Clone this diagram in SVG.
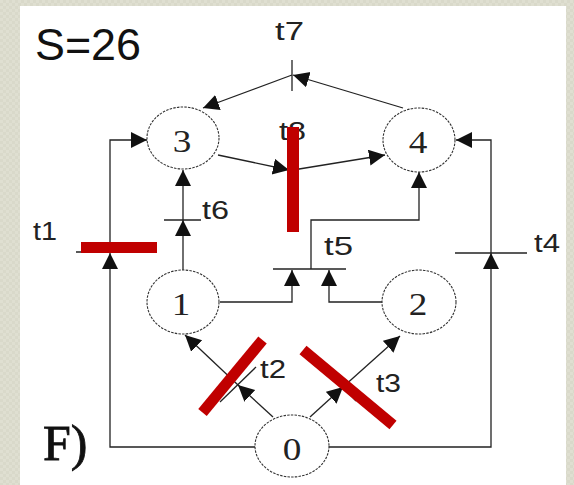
<svg xmlns="http://www.w3.org/2000/svg" width="574" height="485" viewBox="0 0 574 485">
  <defs>
    <pattern id="tex" width="6" height="6" patternUnits="userSpaceOnUse">
      <rect width="6" height="6" fill="#d9d9ca"/>
      <rect width="3" height="3" fill="#dfdfd1"/>
      <rect x="3" y="3" width="3" height="3" fill="#dfdfd1"/>
    </pattern>
    <marker id="arr" markerUnits="userSpaceOnUse" markerWidth="18" markerHeight="18" refX="16" refY="8" orient="auto" viewBox="0 0 18 18">
      <path d="M0,0 L16,8 L0,16 z" fill="#111"/>
    </marker>
    <style>
      .ln { fill: none; stroke: #222; stroke-width: 1.3; }
      .ar { marker-end: url(#arr); }
      .bar { stroke: #222; stroke-width: 1.3; }
      .place { fill: #fff; stroke: #333; stroke-width: 1.1; stroke-dasharray: 2.5 1.2; }
      .pl { font-family: "Liberation Serif", "Times New Roman", serif; font-size: 31px; fill: #222; text-anchor: middle; }
      .tl { font-family: "Liberation Sans", Arial, sans-serif; font-size: 25px; fill: #222; }
      .red { stroke: #c00000; stroke-width: 11; stroke-linecap: butt; }
    </style>
  </defs>

  <rect width="574" height="485" fill="url(#tex)"/>
  <rect x="20" y="6" width="546" height="479" fill="#ffffff"/>

  <text x="35" y="60" font-family="Liberation Sans, Arial, sans-serif" font-size="45" fill="#111" textLength="106" lengthAdjust="spacingAndGlyphs">S=26</text>
  <text x="43" y="460" font-family="Liberation Serif, Times New Roman, serif" font-size="50" fill="#111" stroke="#111" stroke-width="0.8">F)</text>

  <g id="connectors">
    <!-- t1 -->
    <path class="ln ar" d="M255,447 H110 V253"/>
    <line class="bar" x1="76" y1="252" x2="144" y2="252"/>
    <path class="ln ar" d="M110,252 V140 H147"/>
    <!-- t6 -->
    <path class="ln ar" d="M183,270 V220"/>
    <line class="bar" x1="164" y1="220" x2="201" y2="220"/>
    <path class="ln ar" d="M183,220 V170"/>
    <!-- t7 -->
    <path class="ln ar" d="M403,108 L293,75"/>
    <line class="bar" x1="292" y1="60" x2="292" y2="91"/>
    <path class="ln ar" d="M292,75 L203,108"/>
    <!-- t8 -->
    <path class="ln ar" d="M218,155 L289,170"/>
    <line class="bar" x1="293" y1="150" x2="293" y2="190"/>
    <path class="ln ar" d="M293,170 L385,155"/>
    <!-- t5 -->
    <path class="ln ar" d="M220,302 H292 V270"/>
    <path class="ln ar" d="M383,302 H329 V270"/>
    <line class="bar" x1="273" y1="269" x2="346" y2="269"/>
    <path class="ln ar" d="M311,269 V220 H419 V172"/>
    <!-- t4 -->
    <path class="ln ar" d="M329,447 H491 V253"/>
    <line class="bar" x1="455" y1="253" x2="527" y2="253"/>
    <path class="ln ar" d="M491,253 V140 H456"/>
    <!-- t2 -->
    <path class="ln ar" d="M273,417 L238,385"/>
    <line class="bar" x1="220" y1="402" x2="256" y2="367"/>
    <path class="ln ar" d="M238,385 L185,335"/>
    <!-- t3 -->
    <path class="ln ar" d="M310,417 L343,387"/>
    <line class="bar" x1="330" y1="373" x2="356" y2="401"/>
    <path class="ln ar" d="M343,387 L400,336"/>
  </g>

  <g id="p3"><ellipse class="place" cx="183" cy="138" rx="36" ry="31"/><text class="pl" transform="translate(182,152) scale(1.2,1)">3</text></g>
  <g id="p4"><ellipse class="place" cx="419" cy="140" rx="36" ry="32"/><text class="pl" transform="translate(418,153) scale(1.2,1)">4</text></g>
  <g id="p1"><ellipse class="place" cx="183" cy="302" rx="36" ry="32"/><text class="pl" transform="translate(181,315) scale(1.2,1)">1</text></g>
  <g id="p2"><ellipse class="place" cx="419" cy="302" rx="37" ry="32"/><text class="pl" transform="translate(418,315) scale(1.2,1)">2</text></g>
  <g id="p0"><ellipse class="place" cx="292" cy="446" rx="37" ry="31"/><text class="pl" transform="translate(292,460) scale(1.2,1)">0</text></g>

  <g id="t1"><text class="tl" x="33" y="240" textLength="24" lengthAdjust="spacingAndGlyphs">t1</text><rect x="81" y="242" width="76" height="11" fill="#c00000"/></g>
  <g id="t6"><text class="tl" x="202" y="219" textLength="27" lengthAdjust="spacingAndGlyphs">t6</text></g>
  <g id="t7"><text class="tl" x="275" y="40" textLength="29" lengthAdjust="spacingAndGlyphs">t7</text></g>
  <g id="t8"><text class="tl" x="279" y="140" textLength="27" lengthAdjust="spacingAndGlyphs">t8</text><rect x="287" y="127" width="12" height="105" fill="#c00000"/></g>
  <g id="t5"><text class="tl" x="324" y="255" textLength="29" lengthAdjust="spacingAndGlyphs">t5</text></g>
  <g id="t4"><text class="tl" x="534" y="252" textLength="26" lengthAdjust="spacingAndGlyphs">t4</text></g>
  <g id="t2"><text class="tl" x="260" y="378" textLength="26" lengthAdjust="spacingAndGlyphs">t2</text><line class="red" x1="202.5" y1="412.5" x2="262.5" y2="340"/></g>
  <g id="t3"><text class="tl" x="376" y="392" textLength="25" lengthAdjust="spacingAndGlyphs">t3</text><line class="red" x1="303" y1="350" x2="393" y2="425"/></g>
</svg>
